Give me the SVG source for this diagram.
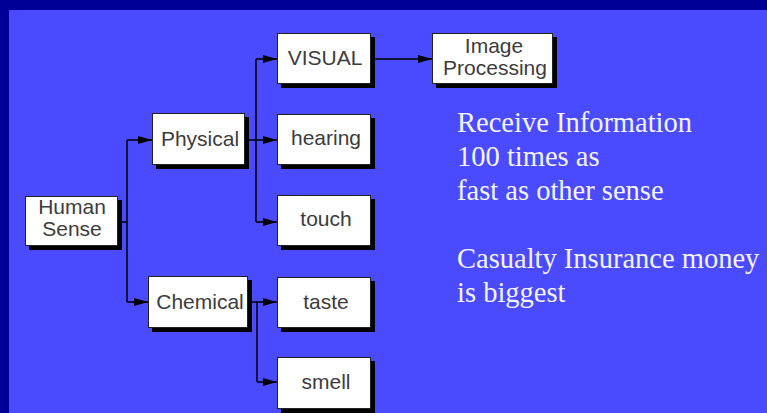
<svg xmlns="http://www.w3.org/2000/svg" width="767" height="413" viewBox="0 0 767 413">
  <style>
    .box { fill: #ffffff; stroke: #222222; stroke-width: 1; }
    .shadow { fill: #000000; }
    .lbl { font-family: "Liberation Sans", Arial, sans-serif; font-size: 21px; fill: #3c3c3c; text-anchor: middle; }
    .wire { fill: none; stroke: #000000; stroke-width: 1.5; }
    .note { font-family: "Liberation Serif", "Times New Roman", serif; font-size: 28.5px; fill: #f4f4ff; }
  </style>
  <defs>
    <marker id="arrow" markerUnits="userSpaceOnUse" markerWidth="14" markerHeight="10" refX="14" refY="5" orient="auto">
      <path d="M0,1 L14,5 L0,9 Z" fill="#000000"/>
    </marker>
  </defs>

  <!-- background -->
  <rect x="0" y="0" width="767" height="413" fill="#4a4aff"/>
  <rect x="0" y="0" width="767" height="10" fill="#000096"/>
  <rect x="0" y="0" width="9" height="413" fill="#000096"/>

  <!-- connectors -->
  <g id="connectors">
    <path class="wire" d="M118,222 H127 M127,140 V302"/>
    <path class="wire" d="M127,140 H152" marker-end="url(#arrow)"/>
    <path class="wire" d="M127,302 H148" marker-end="url(#arrow)"/>
    <path class="wire" d="M256,59 V222"/>
    <path class="wire" d="M256,59 H277" marker-end="url(#arrow)"/>
    <path class="wire" d="M245,140 H277" marker-end="url(#arrow)"/>
    <path class="wire" d="M256,222 H277" marker-end="url(#arrow)"/>
    <path class="wire" d="M371,59 H432" marker-end="url(#arrow)"/>
    <path class="wire" d="M257,302 V382"/>
    <path class="wire" d="M248,302 H277" marker-end="url(#arrow)"/>
    <path class="wire" d="M257,382 H277" marker-end="url(#arrow)"/>
  </g>

  <!-- nodes -->
  <g id="human-sense">
    <rect class="shadow" x="29" y="200" width="93" height="50"/>
    <rect class="box" x="25.5" y="196.5" width="92" height="49"/>
    <text class="lbl" x="72" y="214">Human</text>
    <text class="lbl" x="72" y="236">Sense</text>
  </g>
  <g id="physical">
    <rect class="shadow" x="156" y="117" width="93" height="52"/>
    <rect class="box" x="152.5" y="113.5" width="92" height="51"/>
    <text class="lbl" x="200" y="146">Physical</text>
  </g>
  <g id="chemical">
    <rect class="shadow" x="152" y="280" width="100" height="52"/>
    <rect class="box" x="148.5" y="276.5" width="99" height="51"/>
    <text class="lbl" x="200" y="309">Chemical</text>
  </g>
  <g id="visual">
    <rect class="shadow" x="281" y="37" width="94" height="51"/>
    <rect class="box" x="277.5" y="33.5" width="93" height="50"/>
    <text class="lbl" x="325" y="65">VISUAL</text>
  </g>
  <g id="hearing">
    <rect class="shadow" x="281" y="118" width="94" height="51"/>
    <rect class="box" x="277.5" y="114.5" width="93" height="50"/>
    <text class="lbl" x="326" y="145">hearing</text>
  </g>
  <g id="touch">
    <rect class="shadow" x="281" y="199" width="94" height="51"/>
    <rect class="box" x="277.5" y="195.5" width="93" height="50"/>
    <text class="lbl" x="326" y="226">touch</text>
  </g>
  <g id="taste">
    <rect class="shadow" x="281" y="281" width="94" height="51"/>
    <rect class="box" x="277.5" y="277.5" width="93" height="50"/>
    <text class="lbl" x="326" y="309">taste</text>
  </g>
  <g id="smell">
    <rect class="shadow" x="281" y="361" width="94" height="52"/>
    <rect class="box" x="277.5" y="357.5" width="93" height="51"/>
    <text class="lbl" x="326" y="389">smell</text>
  </g>
  <g id="image-processing">
    <rect class="shadow" x="436" y="37" width="121" height="51"/>
    <rect class="box" x="432.5" y="33.5" width="120" height="50"/>
    <text class="lbl" x="494" y="53">Image</text>
    <text class="lbl" x="495" y="75">Processing</text>
  </g>

  <!-- side notes -->
  <g id="notes">
    <text class="note" x="457" y="132">Receive Information</text>
    <text class="note" x="457" y="166">100 times as</text>
    <text class="note" x="457" y="200">fast as other sense</text>
    <text class="note" x="457" y="268">Casualty Insurance money</text>
    <text class="note" x="457" y="302">is biggest</text>
  </g>
</svg>
